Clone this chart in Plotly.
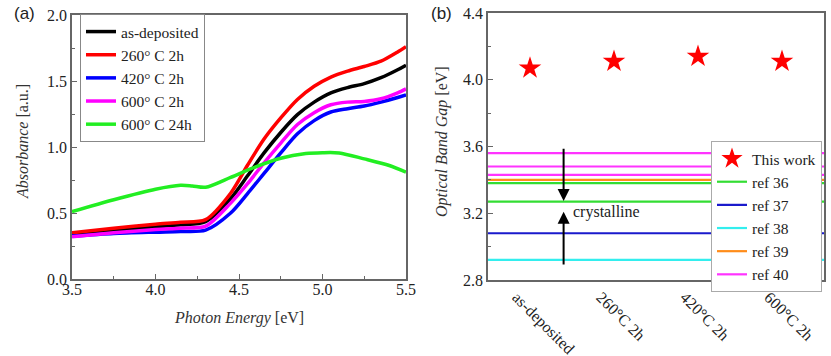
import plotly.graph_objects as go

# ---------------- Panel (a) data ----------------
energy = [3.5, 3.75, 4.0, 4.15, 4.3, 4.45, 4.55, 4.65, 4.75, 4.85, 4.95, 5.05, 5.15, 5.25, 5.35, 5.45, 5.5]
abs_asdep = [0.34, 0.37, 0.395, 0.41, 0.435, 0.61, 0.78, 0.955, 1.11, 1.245, 1.34, 1.41, 1.45, 1.48, 1.525, 1.585, 1.62]
abs_260 = [0.35, 0.385, 0.415, 0.43, 0.45, 0.65, 0.86, 1.06, 1.22, 1.36, 1.46, 1.53, 1.575, 1.61, 1.65, 1.72, 1.76]
abs_420 = [0.325, 0.345, 0.355, 0.36, 0.37, 0.50, 0.645, 0.80, 0.955, 1.10, 1.20, 1.265, 1.29, 1.31, 1.34, 1.375, 1.395]
abs_600 = [0.32, 0.35, 0.375, 0.385, 0.40, 0.575, 0.72, 0.88, 1.03, 1.17, 1.26, 1.32, 1.34, 1.345, 1.365, 1.41, 1.44]
energy_24h = [3.5, 3.75, 4.0, 4.15, 4.22, 4.3, 4.45, 4.6, 4.75, 4.9, 5.0, 5.1, 5.25, 5.4, 5.5]
abs_600_24h = [0.51, 0.60, 0.68, 0.71, 0.705, 0.695, 0.77, 0.85, 0.915, 0.95, 0.957, 0.955, 0.91, 0.86, 0.81]

series_a = [
    ("as-deposited", energy, abs_asdep, "#000000"),
    ("260° C 2h", energy, abs_260, "#ff0000"),
    ("420° C 2h", energy, abs_420, "#0000ff"),
    ("600° C 2h", energy, abs_600, "#ff00ff"),
    ("600° C 24h", energy_24h, abs_600_24h, "#22ee22"),
]

# ---------------- Panel (b) data ----------------
samples = ["as-deposited", "260°C 2h", "420°C 2h", "600°C 2h"]
band_gap = [4.07, 4.11, 4.14, 4.11]
ref_36 = [3.38, 3.27]
ref_37 = [3.08]
ref_38 = [2.92]
ref_39 = [3.40]
ref_40 = [3.56, 3.48, 3.43]
refs = [
    ("ref 36", ref_36, "#33dd33"),
    ("ref 37", ref_37, "#1a1acc"),
    ("ref 38", ref_38, "#33eeee"),
    ("ref 39", ref_39, "#ff8c1a"),
    ("ref 40", ref_40, "#ff33ff"),
]
arrow_down = (3.595, 3.273)
arrow_up = (2.884, 3.209)

W, H = 831, 356
SERIF = "Liberation Serif"
AX = "#666666"
TXT = "#222222"

fig = go.Figure()

for name, xs, ys, col in series_a:
    fig.add_trace(go.Scatter(x=xs, y=ys, mode="lines", name=name,
                             line=dict(color=col, width=3.5, shape="spline", smoothing=0.8),
                             xaxis="x", yaxis="y", legend="legend"))

xlo, xhi = -0.5, len(samples) - 0.5
ref_names = [r[0] for r in refs]
for name, vals, col in refs:
    for i, v in enumerate(vals):
        fig.add_trace(go.Scatter(x=[xlo, xhi], y=[v, v], mode="lines", name=name,
                                 legendgroup=name, showlegend=(i == 0),
                                 legendrank=10 + ref_names.index(name),
                                 line=dict(color=col, width=2.2),
                                 xaxis="x2", yaxis="y2", legend="legend2"))

fig.add_trace(go.Scatter(x=list(range(len(samples))), y=band_gap, mode="markers",
                         name="This work", legendrank=1,
                         marker=dict(symbol="star", size=17, color="#ff0000",
                                     line=dict(width=0)),
                         xaxis="x2", yaxis="y2", legend="legend2"))


def px_x(p):
    return p / W


def px_y(p):
    return 1 - p / H


tickfont = dict(family=SERIF, size=16, color=TXT)

axis_common = dict(showline=True, linecolor=AX, linewidth=1.5, mirror=True,
                   ticks="inside", ticklen=5, tickcolor=AX, showgrid=False,
                   zeroline=False, automargin=False, tickfont=tickfont)

fig.update_layout(
    width=W, height=H,
    template="none",
    paper_bgcolor="white", plot_bgcolor="white",
    margin=dict(l=0, r=0, t=0, b=0),
    xaxis=dict(domain=[px_x(72), px_x(406)], range=[3.5, 5.5], dtick=0.5,
               tickformat=".1f", anchor="y", ticklabelstandoff=-5,
               minor=dict(ticks="inside", ticklen=3, tickcolor=AX, dtick=0.25),
               **axis_common),
    yaxis=dict(domain=[px_y(279), px_y(15)], range=[0, 2.0], dtick=0.5,
               tickformat=".1f", anchor="x",
               minor=dict(ticks="inside", ticklen=3, tickcolor=AX, dtick=0.25),
               **axis_common),
    xaxis2=dict(domain=[px_x(488), px_x(824)], range=[xlo, xhi],
                tickvals=list(range(len(samples))), ticktext=samples, tickangle=45,
                ticklabelshift=-13,
                anchor="y2", **{**axis_common, "ticks": ""}),
    yaxis2=dict(domain=[px_y(280), px_y(13)], range=[2.8, 4.4], dtick=0.4,
                tickformat=".1f", anchor="x2",
                minor=dict(ticks="inside", ticklen=3, tickcolor=AX, dtick=0.2),
                **axis_common),
    legend=dict(x=px_x(80), y=px_y(14), xanchor="left", yanchor="top",
                bgcolor="white", bordercolor="#888", borderwidth=1,
                font=dict(family=SERIF, size=15.5, color=TXT),
                itemwidth=30, tracegroupgap=0),
    legend2=dict(x=px_x(822), y=px_y(141), xanchor="right", yanchor="top",
                 bgcolor="white", bordercolor="#aaa", borderwidth=1,
                 font=dict(family=SERIF, size=15.5, color=TXT),
                 itemwidth=30, tracegroupgap=0),
    showlegend=True,
)

ax_x = 0.4
for tail, head in (arrow_down, arrow_up):
    fig.add_annotation(x=ax_x, y=head, ax=ax_x, ay=tail,
                       xref="x2", yref="y2", axref="x2", ayref="y2",
                       showarrow=True, arrowhead=2, arrowsize=1.2, arrowwidth=2,
                       arrowcolor="black", text="")
fig.add_annotation(x=0.49, y=3.207, xref="x2", yref="y2", text="crystalline",
                   showarrow=False, xanchor="left", yanchor="middle",
                   font=dict(family=SERIF, size=16, color=TXT))

# axis titles
title_font = dict(family=SERIF, size=16, color="#333333")
fig.add_annotation(x=px_x(239), y=px_y(318), xref="paper", yref="paper",
                   text="<i>Photon Energy</i> [eV]", showarrow=False,
                   xanchor="center", yanchor="middle", font=title_font)
fig.add_annotation(x=px_x(22), y=px_y(142), xref="paper", yref="paper",
                   text="<i>Absorbance</i> [a.u.]", showarrow=False, textangle=-90,
                   xanchor="center", yanchor="middle", font=title_font)
fig.add_annotation(x=px_x(442), y=px_y(142), xref="paper", yref="paper",
                   text="<i>Optical Band Gap</i> [eV]", showarrow=False, textangle=-90,
                   xanchor="center", yanchor="middle", font=title_font)

# panel labels
fig.add_annotation(x=px_x(12), y=px_y(13), xref="paper", yref="paper", text="(a)",
                   showarrow=False, xanchor="left", yanchor="middle",
                   font=dict(family="Liberation Sans", size=17, color=TXT))
fig.add_annotation(x=px_x(429), y=px_y(13), xref="paper", yref="paper", text="(b)",
                   showarrow=False, xanchor="left", yanchor="middle",
                   font=dict(family="Liberation Sans", size=17, color=TXT))

fig.write_html("out.html", config={"displayModeBar": False},
               post_script="document.body.style.margin='0';")
